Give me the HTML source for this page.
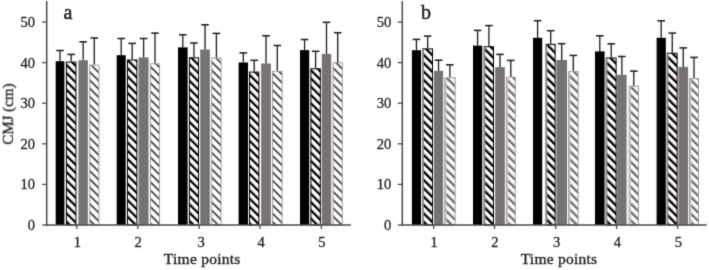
<!DOCTYPE html>
<html><head><meta charset="utf-8"><style>
html,body{margin:0;padding:0;background:#fff;}
body{width:709px;height:270px;overflow:hidden;}
svg{display:block;}
text{stroke:#262626;stroke-width:0.35px;}
.t{stroke-width:0.3px;}
.ta,.tb{stroke-width:0.5px;}
.t{font-family:"Liberation Serif",serif;font-size:14.5px;fill:#262626;}
.tp{font-family:"Liberation Serif",serif;font-size:15.5px;letter-spacing:0.25px;fill:#262626;}
.tc{font-family:"Liberation Serif",serif;font-size:15px;fill:#262626;}
.ta{font-family:"Liberation Serif",serif;font-size:20px;fill:#1a1a1a;}
.tb{font-family:"Liberation Serif",serif;font-size:20px;fill:#1a1a1a;}
</style></head><body>
<svg width="709" height="270" viewBox="0 0 709 270">
<defs>
<filter id="bl" x="0" y="0" width="709" height="270" filterUnits="userSpaceOnUse" color-interpolation-filters="sRGB"><feConvolveMatrix order="3" kernelMatrix="1 6 1 6 36 6 1 6 1" edgeMode="duplicate"/></filter>
<pattern id="hk0" patternUnits="userSpaceOnUse" width="5.83" height="5.83" patternTransform="rotate(-45)">
<rect width="5.83" height="5.83" fill="#fff"/><rect width="2.25" height="5.83" fill="#000"/></pattern>
<pattern id="hk1" patternUnits="userSpaceOnUse" width="5.9" height="5.9" patternTransform="rotate(-45)">
<rect width="5.9" height="5.9" fill="#fff"/><rect width="2.4" height="5.9" fill="#000"/></pattern>
<pattern id="hg0" patternUnits="userSpaceOnUse" width="5.83" height="5.83" patternTransform="rotate(-45)">
<rect width="5.83" height="5.83" fill="#fff"/><rect width="1.9" height="5.83" fill="#505050"/></pattern>
<pattern id="hg1" patternUnits="userSpaceOnUse" width="5.9" height="5.9" patternTransform="rotate(-45)">
<rect width="5.9" height="5.9" fill="#fff"/><rect width="2.3" height="5.9" fill="#6a6a6a"/></pattern>
</defs>
<g filter="url(#bl)">
<rect width="709" height="270" fill="#fff"/>
<rect x="55.7" y="61.2" width="8.7" height="163.8" fill="#000"/>
<line x1="60.05" y1="61.2" x2="60.05" y2="50.5" stroke="#1c1c1c" stroke-width="1.3"/>
<line x1="56.25" y1="50.5" x2="63.85" y2="50.5" stroke="#222" stroke-width="1.55"/>
<rect x="66.4" y="62.1" width="9.5" height="162.9" fill="url(#hk0)" stroke="#000" stroke-width="1"/>
<line x1="71.15" y1="61.6" x2="71.15" y2="54.4" stroke="#1c1c1c" stroke-width="1.3"/>
<line x1="67.35" y1="54.4" x2="74.95" y2="54.4" stroke="#222" stroke-width="1.55"/>
<rect x="78.4" y="60.2" width="9.5" height="164.8" fill="#777373"/>
<line x1="83.15" y1="60.2" x2="83.15" y2="41.8" stroke="#1c1c1c" stroke-width="1.3"/>
<line x1="79.35" y1="41.8" x2="86.95" y2="41.8" stroke="#222" stroke-width="1.55"/>
<rect x="89.7" y="65.1" width="9.2" height="159.9" fill="url(#hg0)" stroke="#a0a0a0" stroke-width="1"/>
<line x1="94.3" y1="64.6" x2="94.3" y2="38" stroke="#1c1c1c" stroke-width="1.3"/>
<line x1="90.5" y1="38" x2="98.1" y2="38" stroke="#222" stroke-width="1.55"/>
<rect x="116.7" y="55.2" width="9" height="169.8" fill="#000"/>
<line x1="121.2" y1="55.2" x2="121.2" y2="38.5" stroke="#1c1c1c" stroke-width="1.3"/>
<line x1="117.4" y1="38.5" x2="125" y2="38.5" stroke="#222" stroke-width="1.55"/>
<rect x="127.5" y="60" width="9.4" height="165" fill="url(#hk0)" stroke="#000" stroke-width="1"/>
<line x1="132.2" y1="59.5" x2="132.2" y2="43.4" stroke="#1c1c1c" stroke-width="1.3"/>
<line x1="128.4" y1="43.4" x2="136" y2="43.4" stroke="#222" stroke-width="1.55"/>
<rect x="138.6" y="57.4" width="10" height="167.6" fill="#777373"/>
<line x1="143.6" y1="57.4" x2="143.6" y2="38.5" stroke="#1c1c1c" stroke-width="1.3"/>
<line x1="139.8" y1="38.5" x2="147.4" y2="38.5" stroke="#222" stroke-width="1.55"/>
<rect x="150.5" y="63.8" width="9" height="161.2" fill="url(#hg0)" stroke="#a0a0a0" stroke-width="1"/>
<line x1="155" y1="63.3" x2="155" y2="33.1" stroke="#1c1c1c" stroke-width="1.3"/>
<line x1="151.2" y1="33.1" x2="158.8" y2="33.1" stroke="#222" stroke-width="1.55"/>
<rect x="178" y="47.4" width="9.6" height="177.6" fill="#000"/>
<line x1="182.8" y1="47.4" x2="182.8" y2="34.8" stroke="#1c1c1c" stroke-width="1.3"/>
<line x1="179" y1="34.8" x2="186.6" y2="34.8" stroke="#222" stroke-width="1.55"/>
<rect x="189.4" y="57.8" width="9.1" height="167.2" fill="url(#hk0)" stroke="#000" stroke-width="1"/>
<line x1="193.95" y1="57.3" x2="193.95" y2="43" stroke="#1c1c1c" stroke-width="1.3"/>
<line x1="190.15" y1="43" x2="197.75" y2="43" stroke="#222" stroke-width="1.55"/>
<rect x="200.2" y="49.5" width="9.7" height="175.5" fill="#777373"/>
<line x1="205.05" y1="49.5" x2="205.05" y2="24.8" stroke="#1c1c1c" stroke-width="1.3"/>
<line x1="201.25" y1="24.8" x2="208.85" y2="24.8" stroke="#222" stroke-width="1.55"/>
<rect x="211.7" y="58" width="9.4" height="167" fill="url(#hg0)" stroke="#a0a0a0" stroke-width="1"/>
<line x1="216.4" y1="57.5" x2="216.4" y2="33.4" stroke="#1c1c1c" stroke-width="1.3"/>
<line x1="212.6" y1="33.4" x2="220.2" y2="33.4" stroke="#222" stroke-width="1.55"/>
<rect x="238.6" y="62.5" width="9.4" height="162.5" fill="#000"/>
<line x1="243.3" y1="62.5" x2="243.3" y2="52.9" stroke="#1c1c1c" stroke-width="1.3"/>
<line x1="239.5" y1="52.9" x2="247.1" y2="52.9" stroke="#222" stroke-width="1.55"/>
<rect x="249.5" y="72.1" width="9.4" height="152.9" fill="url(#hk0)" stroke="#000" stroke-width="1"/>
<line x1="254.2" y1="71.6" x2="254.2" y2="60.3" stroke="#1c1c1c" stroke-width="1.3"/>
<line x1="250.4" y1="60.3" x2="258" y2="60.3" stroke="#222" stroke-width="1.55"/>
<rect x="261.2" y="63.5" width="9.7" height="161.5" fill="#777373"/>
<line x1="266.05" y1="63.5" x2="266.05" y2="35.8" stroke="#1c1c1c" stroke-width="1.3"/>
<line x1="262.25" y1="35.8" x2="269.85" y2="35.8" stroke="#222" stroke-width="1.55"/>
<rect x="272.5" y="71.3" width="9.6" height="153.7" fill="url(#hg0)" stroke="#a0a0a0" stroke-width="1"/>
<line x1="277.3" y1="70.8" x2="277.3" y2="45.5" stroke="#1c1c1c" stroke-width="1.3"/>
<line x1="273.5" y1="45.5" x2="281.1" y2="45.5" stroke="#222" stroke-width="1.55"/>
<rect x="300" y="50.1" width="9.2" height="174.9" fill="#000"/>
<line x1="304.6" y1="50.1" x2="304.6" y2="39.5" stroke="#1c1c1c" stroke-width="1.3"/>
<line x1="300.8" y1="39.5" x2="308.4" y2="39.5" stroke="#222" stroke-width="1.55"/>
<rect x="310.9" y="68.8" width="9.4" height="156.2" fill="url(#hk0)" stroke="#000" stroke-width="1"/>
<line x1="315.6" y1="68.3" x2="315.6" y2="51.3" stroke="#1c1c1c" stroke-width="1.3"/>
<line x1="311.8" y1="51.3" x2="319.4" y2="51.3" stroke="#222" stroke-width="1.55"/>
<rect x="321.8" y="53.9" width="9.4" height="171.1" fill="#777373"/>
<line x1="326.5" y1="53.9" x2="326.5" y2="22.3" stroke="#1c1c1c" stroke-width="1.3"/>
<line x1="322.7" y1="22.3" x2="330.3" y2="22.3" stroke="#222" stroke-width="1.55"/>
<rect x="333.1" y="62.7" width="9.2" height="162.3" fill="url(#hg0)" stroke="#a0a0a0" stroke-width="1"/>
<line x1="337.7" y1="62.2" x2="337.7" y2="32.7" stroke="#1c1c1c" stroke-width="1.3"/>
<line x1="333.9" y1="32.7" x2="341.5" y2="32.7" stroke="#222" stroke-width="1.55"/>
<line x1="46.7" y1="1" x2="46.7" y2="225.75" stroke="#4a4a4a" stroke-width="1.5"/>
<line x1="45.95" y1="225" x2="351" y2="225" stroke="#4a4a4a" stroke-width="1.5"/>
<line x1="42.2" y1="225" x2="46.7" y2="225" stroke="#4a4a4a" stroke-width="1.3"/>
<text x="35" y="230" text-anchor="end" class="t">0</text>
<line x1="42.2" y1="184.4" x2="46.7" y2="184.4" stroke="#4a4a4a" stroke-width="1.3"/>
<text x="35" y="189.4" text-anchor="end" class="t">10</text>
<line x1="42.2" y1="143.8" x2="46.7" y2="143.8" stroke="#4a4a4a" stroke-width="1.3"/>
<text x="35" y="148.8" text-anchor="end" class="t">20</text>
<line x1="42.2" y1="103.2" x2="46.7" y2="103.2" stroke="#4a4a4a" stroke-width="1.3"/>
<text x="35" y="108.2" text-anchor="end" class="t">30</text>
<line x1="42.2" y1="62.6" x2="46.7" y2="62.6" stroke="#4a4a4a" stroke-width="1.3"/>
<text x="35" y="67.6" text-anchor="end" class="t">40</text>
<line x1="42.2" y1="22" x2="46.7" y2="22" stroke="#4a4a4a" stroke-width="1.3"/>
<text x="35" y="27" text-anchor="end" class="t">50</text>
<line x1="76.8" y1="225" x2="76.8" y2="229" stroke="#4a4a4a" stroke-width="1.3"/>
<text x="77.4" y="247" text-anchor="middle" class="t">1</text>
<line x1="137.8" y1="225" x2="137.8" y2="229" stroke="#4a4a4a" stroke-width="1.3"/>
<text x="138.2" y="247" text-anchor="middle" class="t">2</text>
<line x1="199.2" y1="225" x2="199.2" y2="229" stroke="#4a4a4a" stroke-width="1.3"/>
<text x="201" y="247" text-anchor="middle" class="t">3</text>
<line x1="260" y1="225" x2="260" y2="229" stroke="#4a4a4a" stroke-width="1.3"/>
<text x="261" y="247" text-anchor="middle" class="t">4</text>
<line x1="321.4" y1="225" x2="321.4" y2="229" stroke="#4a4a4a" stroke-width="1.3"/>
<text x="321.9" y="247" text-anchor="middle" class="t">5</text>
<text x="202.2" y="263.8" text-anchor="middle" class="tp">Time points</text>
<text x="63.4" y="18.8" class="ta">a</text>
<rect x="411.9" y="50.2" width="9.1" height="174.8" fill="#000"/>
<line x1="416.45" y1="50.2" x2="416.45" y2="39.4" stroke="#1c1c1c" stroke-width="1.3"/>
<line x1="412.65" y1="39.4" x2="420.25" y2="39.4" stroke="#222" stroke-width="1.55"/>
<rect x="422.8" y="48.9" width="9.7" height="176.1" fill="url(#hk1)" stroke="#000" stroke-width="1"/>
<rect x="421.9" y="49.4" width="1.9" height="175.6" fill="#8e8e8e"/>
<line x1="427.65" y1="48.4" x2="427.65" y2="36.1" stroke="#1c1c1c" stroke-width="1.3"/>
<line x1="423.85" y1="36.1" x2="431.45" y2="36.1" stroke="#222" stroke-width="1.55"/>
<rect x="434" y="70.8" width="9.1" height="154.2" fill="#777373"/>
<line x1="438.55" y1="70.8" x2="438.55" y2="60.2" stroke="#1c1c1c" stroke-width="1.3"/>
<line x1="434.75" y1="60.2" x2="442.35" y2="60.2" stroke="#222" stroke-width="1.55"/>
<rect x="444.7" y="77.8" width="10.4" height="147.2" fill="url(#hg1)" stroke="#a0a0a0" stroke-width="1"/>
<rect x="445.2" y="78.3" width="1.4" height="146.7" fill="#c4c4c4"/>
<line x1="449.9" y1="77.3" x2="449.9" y2="64.8" stroke="#1c1c1c" stroke-width="1.3"/>
<line x1="446.1" y1="64.8" x2="453.7" y2="64.8" stroke="#222" stroke-width="1.55"/>
<rect x="473" y="45.6" width="9.2" height="179.4" fill="#000"/>
<line x1="477.6" y1="45.6" x2="477.6" y2="30.4" stroke="#1c1c1c" stroke-width="1.3"/>
<line x1="473.8" y1="30.4" x2="481.4" y2="30.4" stroke="#222" stroke-width="1.55"/>
<rect x="484.3" y="46.7" width="9.2" height="178.3" fill="url(#hk1)" stroke="#000" stroke-width="1"/>
<rect x="483.4" y="47.2" width="1.9" height="177.8" fill="#8e8e8e"/>
<line x1="488.9" y1="46.2" x2="488.9" y2="25.6" stroke="#1c1c1c" stroke-width="1.3"/>
<line x1="485.1" y1="25.6" x2="492.7" y2="25.6" stroke="#222" stroke-width="1.55"/>
<rect x="495.2" y="67.1" width="9.6" height="157.9" fill="#777373"/>
<line x1="500" y1="67.1" x2="500" y2="54.4" stroke="#1c1c1c" stroke-width="1.3"/>
<line x1="496.2" y1="54.4" x2="503.8" y2="54.4" stroke="#222" stroke-width="1.55"/>
<rect x="506.3" y="77.2" width="9" height="147.8" fill="url(#hg1)" stroke="#a0a0a0" stroke-width="1"/>
<rect x="506.8" y="77.7" width="1.4" height="147.3" fill="#c4c4c4"/>
<line x1="510.8" y1="76.7" x2="510.8" y2="60.4" stroke="#1c1c1c" stroke-width="1.3"/>
<line x1="507" y1="60.4" x2="514.6" y2="60.4" stroke="#222" stroke-width="1.55"/>
<rect x="533" y="37.8" width="9.2" height="187.2" fill="#000"/>
<line x1="537.6" y1="37.8" x2="537.6" y2="20.7" stroke="#1c1c1c" stroke-width="1.3"/>
<line x1="533.8" y1="20.7" x2="541.4" y2="20.7" stroke="#222" stroke-width="1.55"/>
<rect x="546.3" y="44.3" width="8.8" height="180.7" fill="url(#hk1)" stroke="#000" stroke-width="1"/>
<rect x="545.4" y="44.8" width="1.9" height="180.2" fill="#8e8e8e"/>
<line x1="550.7" y1="43.8" x2="550.7" y2="30.7" stroke="#1c1c1c" stroke-width="1.3"/>
<line x1="546.9" y1="30.7" x2="554.5" y2="30.7" stroke="#222" stroke-width="1.55"/>
<rect x="556.4" y="60" width="10.6" height="165" fill="#777373"/>
<line x1="561.7" y1="60" x2="561.7" y2="43.7" stroke="#1c1c1c" stroke-width="1.3"/>
<line x1="557.9" y1="43.7" x2="565.5" y2="43.7" stroke="#222" stroke-width="1.55"/>
<rect x="568.5" y="71.6" width="9.6" height="153.4" fill="url(#hg1)" stroke="#a0a0a0" stroke-width="1"/>
<rect x="569" y="72.1" width="1.4" height="152.9" fill="#c4c4c4"/>
<line x1="573.3" y1="71.1" x2="573.3" y2="55.4" stroke="#1c1c1c" stroke-width="1.3"/>
<line x1="569.5" y1="55.4" x2="577.1" y2="55.4" stroke="#222" stroke-width="1.55"/>
<rect x="595" y="51.4" width="9.6" height="173.6" fill="#000"/>
<line x1="599.8" y1="51.4" x2="599.8" y2="35.8" stroke="#1c1c1c" stroke-width="1.3"/>
<line x1="596" y1="35.8" x2="603.6" y2="35.8" stroke="#222" stroke-width="1.55"/>
<rect x="606.4" y="58" width="9.7" height="167" fill="url(#hk1)" stroke="#000" stroke-width="1"/>
<rect x="605.5" y="58.5" width="1.9" height="166.5" fill="#8e8e8e"/>
<line x1="611.25" y1="57.5" x2="611.25" y2="43.8" stroke="#1c1c1c" stroke-width="1.3"/>
<line x1="607.45" y1="43.8" x2="615.05" y2="43.8" stroke="#222" stroke-width="1.55"/>
<rect x="617.1" y="74.8" width="9.5" height="150.2" fill="#777373"/>
<line x1="621.85" y1="74.8" x2="621.85" y2="56.5" stroke="#1c1c1c" stroke-width="1.3"/>
<line x1="618.05" y1="56.5" x2="625.65" y2="56.5" stroke="#222" stroke-width="1.55"/>
<rect x="629.1" y="86.2" width="9.4" height="138.8" fill="url(#hg1)" stroke="#a0a0a0" stroke-width="1"/>
<rect x="629.6" y="86.7" width="1.4" height="138.3" fill="#c4c4c4"/>
<line x1="633.8" y1="85.7" x2="633.8" y2="71.1" stroke="#1c1c1c" stroke-width="1.3"/>
<line x1="630" y1="71.1" x2="637.6" y2="71.1" stroke="#222" stroke-width="1.55"/>
<rect x="656.6" y="37.8" width="9.2" height="187.2" fill="#000"/>
<line x1="661.2" y1="37.8" x2="661.2" y2="20.8" stroke="#1c1c1c" stroke-width="1.3"/>
<line x1="657.4" y1="20.8" x2="665" y2="20.8" stroke="#222" stroke-width="1.55"/>
<rect x="667.4" y="53.2" width="9.7" height="171.8" fill="url(#hk1)" stroke="#000" stroke-width="1"/>
<rect x="666.5" y="53.7" width="1.9" height="171.3" fill="#8e8e8e"/>
<line x1="672.25" y1="52.7" x2="672.25" y2="33.1" stroke="#1c1c1c" stroke-width="1.3"/>
<line x1="668.45" y1="33.1" x2="676.05" y2="33.1" stroke="#222" stroke-width="1.55"/>
<rect x="678.4" y="66.9" width="9.7" height="158.1" fill="#777373"/>
<line x1="683.25" y1="66.9" x2="683.25" y2="47.9" stroke="#1c1c1c" stroke-width="1.3"/>
<line x1="679.45" y1="47.9" x2="687.05" y2="47.9" stroke="#222" stroke-width="1.55"/>
<rect x="689.5" y="78.6" width="9" height="146.4" fill="url(#hg1)" stroke="#a0a0a0" stroke-width="1"/>
<rect x="690" y="79.1" width="1.4" height="145.9" fill="#c4c4c4"/>
<line x1="694" y1="78.1" x2="694" y2="57.4" stroke="#1c1c1c" stroke-width="1.3"/>
<line x1="690.2" y1="57.4" x2="697.8" y2="57.4" stroke="#222" stroke-width="1.55"/>
<line x1="402.3" y1="1" x2="402.3" y2="225.75" stroke="#4a4a4a" stroke-width="1.5"/>
<line x1="401.55" y1="225" x2="706.8" y2="225" stroke="#4a4a4a" stroke-width="1.5"/>
<line x1="397.8" y1="225" x2="402.3" y2="225" stroke="#4a4a4a" stroke-width="1.3"/>
<text x="391.2" y="230" text-anchor="end" class="t">0</text>
<line x1="397.8" y1="184.4" x2="402.3" y2="184.4" stroke="#4a4a4a" stroke-width="1.3"/>
<text x="391.2" y="189.4" text-anchor="end" class="t">10</text>
<line x1="397.8" y1="143.8" x2="402.3" y2="143.8" stroke="#4a4a4a" stroke-width="1.3"/>
<text x="391.2" y="148.8" text-anchor="end" class="t">20</text>
<line x1="397.8" y1="103.2" x2="402.3" y2="103.2" stroke="#4a4a4a" stroke-width="1.3"/>
<text x="391.2" y="108.2" text-anchor="end" class="t">30</text>
<line x1="397.8" y1="62.6" x2="402.3" y2="62.6" stroke="#4a4a4a" stroke-width="1.3"/>
<text x="391.2" y="67.6" text-anchor="end" class="t">40</text>
<line x1="397.8" y1="22" x2="402.3" y2="22" stroke="#4a4a4a" stroke-width="1.3"/>
<text x="391.2" y="27" text-anchor="end" class="t">50</text>
<line x1="433.6" y1="225" x2="433.6" y2="229" stroke="#4a4a4a" stroke-width="1.3"/>
<text x="434" y="247" text-anchor="middle" class="t">1</text>
<line x1="494.5" y1="225" x2="494.5" y2="229" stroke="#4a4a4a" stroke-width="1.3"/>
<text x="494.8" y="247" text-anchor="middle" class="t">2</text>
<line x1="555.7" y1="225" x2="555.7" y2="229" stroke="#4a4a4a" stroke-width="1.3"/>
<text x="556.7" y="247" text-anchor="middle" class="t">3</text>
<line x1="616.6" y1="225" x2="616.6" y2="229" stroke="#4a4a4a" stroke-width="1.3"/>
<text x="617.4" y="247" text-anchor="middle" class="t">4</text>
<line x1="677.7" y1="225" x2="677.7" y2="229" stroke="#4a4a4a" stroke-width="1.3"/>
<text x="678.3" y="247" text-anchor="middle" class="t">5</text>
<text x="559" y="263.8" text-anchor="middle" class="tp">Time points</text>
<text x="421.1" y="19.4" class="tb">b</text>
<text transform="translate(12.9 114.2) rotate(-90)" text-anchor="middle" class="tc">CMJ (cm)</text>
</g>
</svg>
</body></html>
